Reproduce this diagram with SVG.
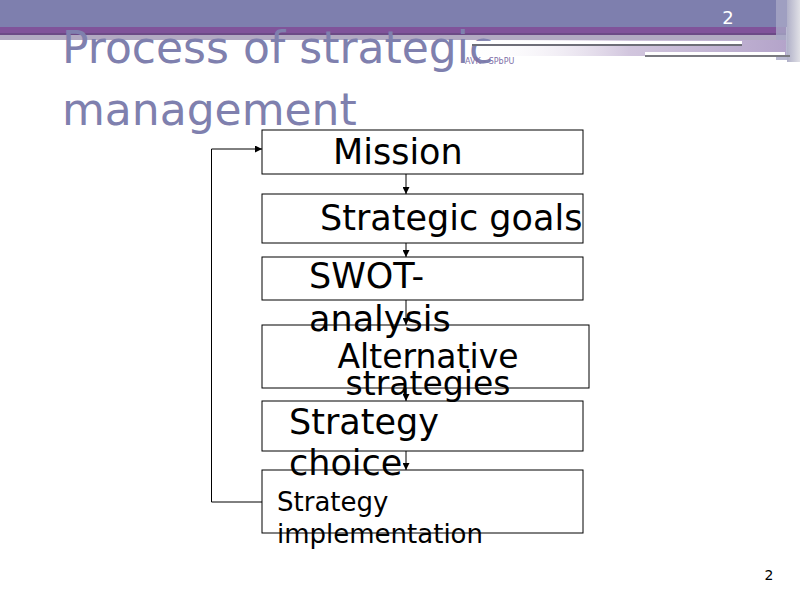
<svg xmlns="http://www.w3.org/2000/svg" width="800" height="600" viewBox="0 0 800 600">
<defs>
<marker id="ah" viewBox="0 0 10 10" refX="10" refY="5" markerWidth="7" markerHeight="7" markerUnits="userSpaceOnUse" orient="auto">
<path d="M0,0 L10,5 L0,10 Z" fill="#000"/>
</marker>
<linearGradient id="fade" x1="0" y1="0" x2="1" y2="0">
<stop offset="0" stop-color="#ffffff" stop-opacity="0"/>
<stop offset="0.5" stop-color="#d2c6de"/>
<stop offset="1" stop-color="#b4a4ca"/>
</linearGradient>
<linearGradient id="side" x1="0" y1="0" x2="1" y2="0">
<stop offset="0" stop-color="#b0b0c8"/>
<stop offset="1" stop-color="#e0e0e6"/>
</linearGradient>
</defs>
<style>
.box{fill:none;stroke:#000;stroke-width:1}
.lbl{font-family:"DejaVu Sans",sans-serif;fill:#000}
.title{font-family:"DejaVu Sans",sans-serif;fill:#7f80ae;font-size:44px}
.conn{stroke:#000;stroke-width:1;fill:none}
</style>
<rect width="800" height="600" fill="#fff"/>
<g id="header">
<rect x="0" y="0" width="800" height="27" fill="#7e7fae"/>
<rect x="0" y="27" width="786" height="6" fill="#80539a"/>
<rect x="0" y="33" width="786" height="2" fill="#6c4a86"/>
<rect x="0" y="35" width="786" height="5" fill="#b2aac2"/>
<rect x="776" y="0" width="11" height="60" fill="#a8a8c6" opacity="0.8"/>
<rect x="787" y="0" width="13" height="62" fill="url(#side)"/>
<text x="728" y="24" font-family="DejaVu Sans, sans-serif" font-size="18" fill="#fff" text-anchor="middle">2</text>
</g>
<g id="title">
<text class="title" x="62" y="63">Process of strategic</text>
<text class="title" x="62" y="125">management</text>
</g>
<g id="header-lines">
<rect x="472" y="40" width="314" height="16" fill="url(#fade)"/>
<rect x="472" y="41" width="270" height="3" fill="#fff"/>
<rect x="472" y="44" width="270" height="2" fill="#6e6e78"/>
<rect x="645" y="52" width="140" height="3" fill="#fff"/>
<rect x="645" y="55" width="145" height="2" fill="#7a7a80"/>
<text x="465" y="64" font-family="DejaVu Sans, sans-serif" font-size="8" fill="#8070a8">AVK - SPbPU</text>
</g>
<g id="connectors">
<line class="conn" x1="406" y1="174" x2="406" y2="194" marker-end="url(#ah)"/>
<line class="conn" x1="406" y1="243" x2="406" y2="257" marker-end="url(#ah)"/>
<line class="conn" x1="406" y1="300" x2="406" y2="325" marker-end="url(#ah)"/>
<line class="conn" x1="406" y1="388" x2="406" y2="401" marker-end="url(#ah)"/>
<line class="conn" x1="406" y1="451" x2="406" y2="470" marker-end="url(#ah)"/>
<polyline class="conn" points="262,502 211.5,502 211.5,149 262,149" marker-end="url(#ah)"/>
</g>
<g id="n1"><rect class="box" x="262" y="130" width="321" height="44"/><text class="lbl" x="333" y="164" font-size="35">Mission</text></g>
<g id="n2"><rect class="box" x="262" y="194" width="321" height="49"/><text class="lbl" x="320" y="230" font-size="35">Strategic goals</text></g>
<g id="n3"><rect class="box" x="262" y="257" width="321" height="43"/><text class="lbl" x="309" y="288" font-size="35">SWOT-</text><text class="lbl" x="309" y="331" font-size="35">analysis</text></g>
<g id="n4"><rect class="box" x="262" y="325" width="327" height="63"/><text class="lbl" x="428" y="368" font-size="33" text-anchor="middle">Alternative</text><text class="lbl" x="428" y="395" font-size="33" text-anchor="middle">strategies</text></g>
<g id="n5"><rect class="box" x="262" y="401" width="321" height="50"/><text class="lbl" x="289" y="434" font-size="35">Strategy</text><text class="lbl" x="289" y="475" font-size="35">choice</text></g>
<g id="n6"><rect class="box" x="262" y="470" width="321" height="63"/><text class="lbl" x="277" y="511" font-size="26">Strategy</text><text class="lbl" x="277" y="543" font-size="26">implementation</text></g>
<text x="769" y="580" font-family="DejaVu Sans, sans-serif" font-size="14" fill="#000" text-anchor="middle">2</text>
</svg>
